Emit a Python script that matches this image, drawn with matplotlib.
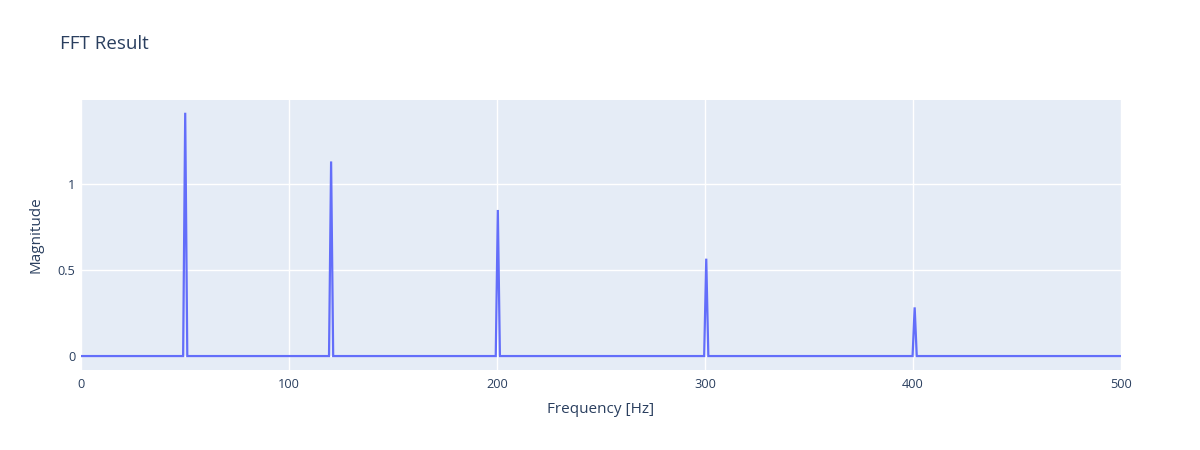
import numpy as np
import matplotlib.pyplot as plt

# peaks of the spectrum (bin frequencies from linspace(0, 500, 500))
peak_freqs = [50.1, 120.24, 200.4, 300.6, 400.8]
peak_mags = [1.414, 1.131, 0.849, 0.566, 0.283]
bin_step = 500 / 499
f_start, f_end = 0, 500
x_ticks = [0, 100, 200, 300, 400, 500]
y_ticks = [0, 0.5, 1]
y_tick_labels = ["0", "0.5", "1"]


def main():
	# polyline vertices: zero floor with one-bin triangles at each peak
	xs = [f_start]
	ys = [0]
	for f, m in zip(peak_freqs, peak_mags):
		xs += [f - bin_step, f, f + bin_step]
		ys += [0, m, 0]
	xs.append(f_end)
	ys.append(0)

	plt.rcParams['font.family'] = ['Open Sans', 'DejaVu Sans']
	txt = '#2a3f5f'

	fig = plt.figure(figsize=(12, 4.5), dpi=100)
	ax = fig.add_axes([81/1200, 80/450, 1040/1200, 270/450])
	ax.set_facecolor('#E5ECF6')
	ax.plot(xs, ys, color='#636efa', linewidth=1.6, solid_joinstyle='miter', zorder=3)

	ax.set_xlim(0, 500)
	ax.set_ylim(-0.081, 1.488)
	ax.set_xticks(x_ticks)
	ax.set_yticks(y_ticks)
	ax.set_yticklabels(y_tick_labels)
	ax.grid(True, color='white', linewidth=1)
	ax.set_axisbelow(True)
	ax.tick_params(length=0, labelsize=9.2, labelcolor=txt)
	ax.tick_params(axis='x', pad=6)
	ax.tick_params(axis='y', pad=4)
	for s in ax.spines.values():
		s.set_visible(False)

	ax.set_xlabel("Frequency [Hz]", fontsize=11, color=txt, labelpad=8)
	ax.set_ylabel("Magnitude", fontsize=11, color=txt, labelpad=10)
	fig.text(60/1200, 1 - 44/450, "FFT Result", fontsize=13.5, color=txt, va='center', ha='left')

	plt.savefig("out.png", dpi=100)


if __name__ == "__main__":
	main()
